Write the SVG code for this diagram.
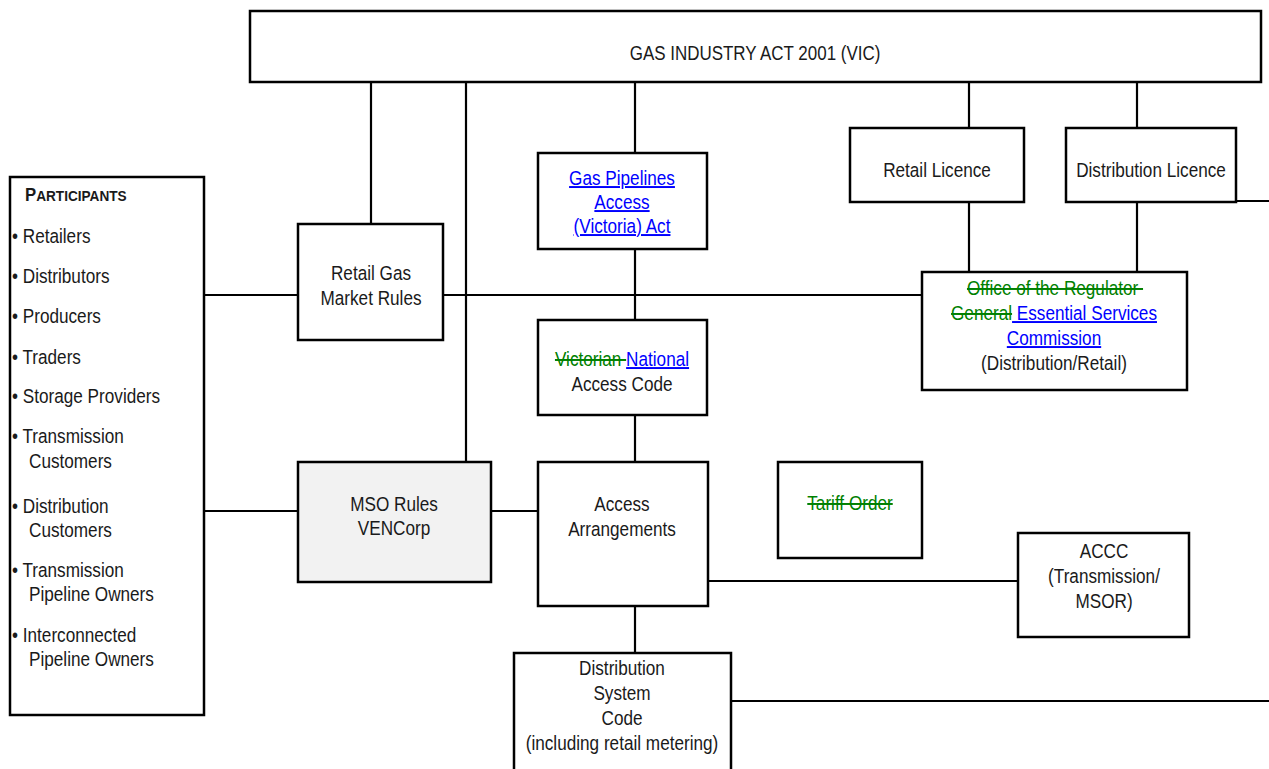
<svg xmlns="http://www.w3.org/2000/svg" width="1269" height="769" viewBox="0 0 1269 769">
<style>
  .box { fill: #ffffff; stroke: #000000; stroke-width: 2.5; }
  .grey { fill: #f2f2f2; }
  .conn line { stroke: #000000; stroke-width: 2.2; }
  text { font-family: "Liberation Sans", Arial, sans-serif; font-size: 19.5px; fill: #1a1a1a; }
  .c { text-anchor: middle; }
  .del { fill: #008000; text-decoration: line-through; }
  .ins { fill: #0000ff; text-decoration: underline; }
</style>
<rect width="1269" height="769" fill="#ffffff"/>
<g id="connectors" class="conn">
  <line x1="371" y1="82" x2="371" y2="224"/>
  <line x1="466" y1="82" x2="466" y2="462"/>
  <line x1="635" y1="82" x2="635" y2="153"/>
  <line x1="635" y1="249" x2="635" y2="320"/>
  <line x1="635" y1="415" x2="635" y2="462"/>
  <line x1="635" y1="606" x2="635" y2="653"/>
  <line x1="969" y1="82" x2="969" y2="128"/>
  <line x1="1137" y1="82" x2="1137" y2="128"/>
  <line x1="969" y1="202" x2="969" y2="272"/>
  <line x1="1137" y1="202" x2="1137" y2="272"/>
  <line x1="204" y1="295" x2="298" y2="295"/>
  <line x1="443" y1="295" x2="922" y2="295"/>
  <line x1="204" y1="511" x2="298" y2="511"/>
  <line x1="491" y1="511" x2="538" y2="511"/>
  <line x1="708" y1="581" x2="1018" y2="581"/>
  <line x1="731" y1="701" x2="1269" y2="701"/>
  <line x1="1236" y1="201" x2="1269" y2="201"/>
</g>
<g id="gas-industry-act">
  <rect class="box" x="250" y="11" width="1011" height="71"/>
  <text class="c" transform="translate(755,60) scale(0.87,1)">GAS INDUSTRY ACT 2001 (VIC)</text>
</g>
<g id="participants">
  <rect class="box" x="10" y="177" width="194" height="538"/>
  <text transform="translate(25,201) scale(0.88,1)" font-weight="bold"><tspan font-size="19">P</tspan><tspan font-size="15.5">ARTICIPANTS</tspan></text>
  <text transform="translate(12,243) scale(0.88,1)">• Retailers</text>
  <text transform="translate(12,283) scale(0.88,1)">• Distributors</text>
  <text transform="translate(12,323) scale(0.88,1)">• Producers</text>
  <text transform="translate(12,364) scale(0.88,1)">• Traders</text>
  <text transform="translate(12,403) scale(0.88,1)">• Storage Providers</text>
  <text transform="translate(12,443) scale(0.88,1)">• Transmission</text>
  <text transform="translate(29,468) scale(0.88,1)">Customers</text>
  <text transform="translate(12,513) scale(0.88,1)">• Distribution</text>
  <text transform="translate(29,537) scale(0.88,1)">Customers</text>
  <text transform="translate(12,577) scale(0.88,1)">• Transmission</text>
  <text transform="translate(29,601) scale(0.88,1)">Pipeline Owners</text>
  <text transform="translate(12,642) scale(0.88,1)">• Interconnected</text>
  <text transform="translate(29,666) scale(0.88,1)">Pipeline Owners</text>
</g>
<g id="retail-gas-market-rules">
  <rect class="box" x="298" y="224" width="145" height="116"/>
  <text class="c" transform="translate(371,280) scale(0.88,1)">Retail Gas</text>
  <text class="c" transform="translate(371,305) scale(0.88,1)">Market Rules</text>
</g>
<g id="gas-pipelines-access-act">
  <rect class="box" x="538" y="153" width="169" height="96"/>
  <text class="c ins" transform="translate(622,185) scale(0.88,1)">Gas Pipelines</text>
  <text class="c ins" transform="translate(622,209) scale(0.88,1)">Access</text>
  <text class="c ins" transform="translate(622,233) scale(0.88,1)">(Victoria) Act</text>
</g>
<g id="access-code">
  <rect class="box" x="538" y="320" width="169" height="95"/>
  <text class="c" transform="translate(622,366) scale(0.88,1)" xml:space="preserve"><tspan class="del">Victorian </tspan><tspan class="ins">National</tspan></text>
  <text class="c" transform="translate(622,391) scale(0.88,1)">Access Code</text>
</g>
<g id="mso-rules">
  <rect class="box grey" x="298" y="462" width="193" height="120"/>
  <text class="c" transform="translate(394,511) scale(0.88,1)">MSO Rules</text>
  <text class="c" transform="translate(394,535) scale(0.88,1)">VENCorp</text>
</g>
<g id="access-arrangements">
  <rect class="box" x="538" y="462" width="170" height="144"/>
  <text class="c" transform="translate(622,511) scale(0.88,1)">Access</text>
  <text class="c" transform="translate(622,536) scale(0.88,1)">Arrangements</text>
</g>
<g id="tariff-order">
  <rect class="box" x="778" y="462" width="144" height="96"/>
  <text class="c del" transform="translate(850,510) scale(0.88,1)">Tariff Order</text>
</g>
<g id="accc">
  <rect class="box" x="1018" y="533" width="171" height="104"/>
  <text class="c" transform="translate(1104,558) scale(0.88,1)">ACCC</text>
  <text class="c" transform="translate(1104,583) scale(0.88,1)">(Transmission/</text>
  <text class="c" transform="translate(1104,608) scale(0.88,1)">MSOR)</text>
</g>
<g id="distribution-system-code">
  <rect class="box" x="514" y="653" width="217" height="130"/>
  <text class="c" transform="translate(622,675) scale(0.88,1)">Distribution</text>
  <text class="c" transform="translate(622,700) scale(0.88,1)">System</text>
  <text class="c" transform="translate(622,725) scale(0.88,1)">Code</text>
  <text class="c" transform="translate(622,750) scale(0.88,1)">(including retail metering)</text>
</g>
<g id="retail-licence">
  <rect class="box" x="850" y="128" width="174" height="74"/>
  <text class="c" transform="translate(937,177) scale(0.88,1)">Retail Licence</text>
</g>
<g id="distribution-licence">
  <rect class="box" x="1066" y="128" width="170" height="74"/>
  <text class="c" transform="translate(1151,177) scale(0.88,1)">Distribution Licence</text>
</g>
<g id="essential-services-commission">
  <rect class="box" x="922" y="272" width="265" height="118"/>
  <text class="c del" transform="translate(1055,295) scale(0.88,1)" xml:space="preserve">Office of the Regulator </text>
  <text class="c" transform="translate(1054,320) scale(0.88,1)" xml:space="preserve"><tspan class="del">General</tspan><tspan class="ins"> Essential Services</tspan></text>
  <text class="c ins" transform="translate(1054,345) scale(0.88,1)">Commission</text>
  <text class="c" transform="translate(1054,370) scale(0.88,1)">(Distribution/Retail)</text>
</g>
</svg>
